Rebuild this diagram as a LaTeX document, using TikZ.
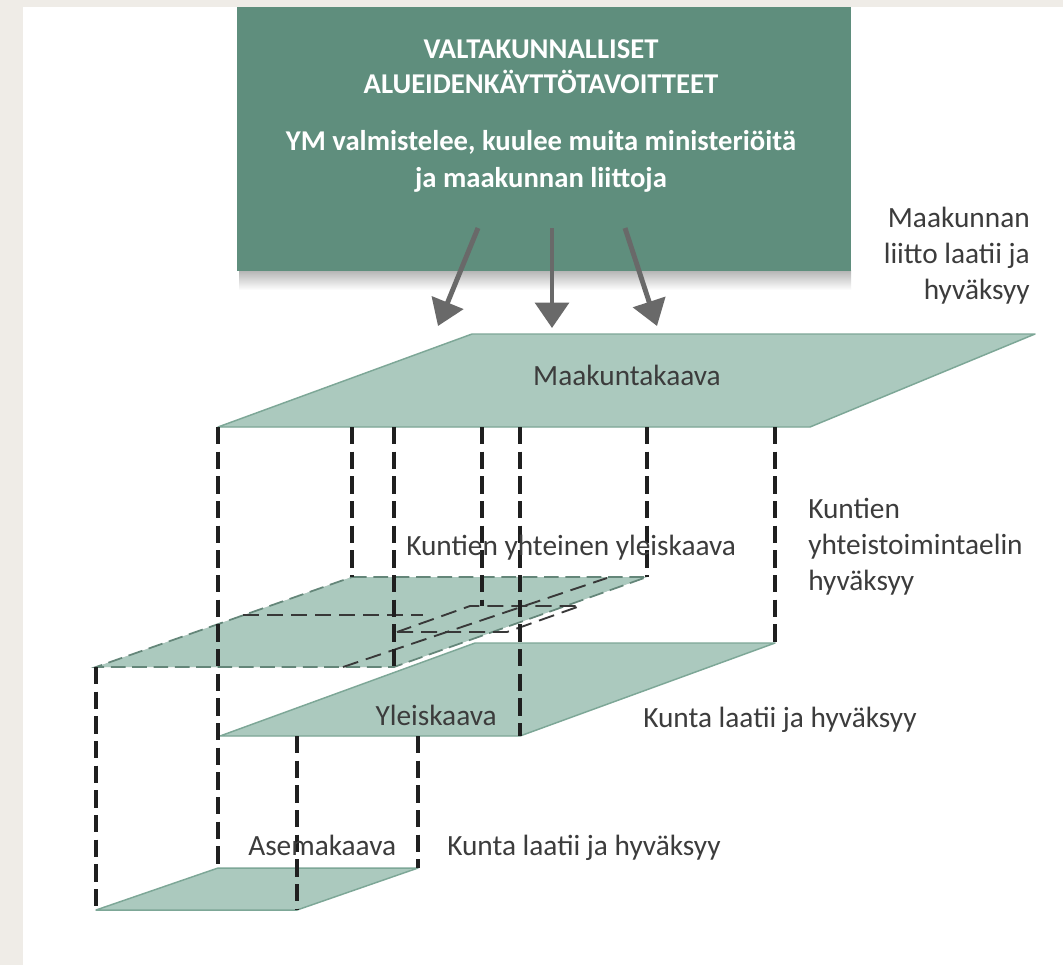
\documentclass[tikz,border=0pt]{standalone}
\usepackage{fontspec}
\setmainfont{Carlito}
\usetikzlibrary{arrows.meta}
\definecolor{bgstrip}{HTML}{EFECE7}
\definecolor{topgreen}{HTML}{5F8E7D}
\definecolor{planefill}{HTML}{ABC9BE}
\definecolor{planeedge}{HTML}{7DA797}
\definecolor{txt}{HTML}{3C3C3C}
\definecolor{arrowgray}{HTML}{696969}
\begin{document}
\begin{tikzpicture}[x=0.75pt,y=-0.75pt,
  plane/.style={fill=planefill, draw=planeedge, line width=1.1pt, line join=round},
  jointedge/.style={draw=planeedge!80!black, line width=1.3pt, dash pattern=on 11pt off 5pt},
  guide/.style={draw=black!88, line width=2.5pt, dash pattern=on 13pt off 5.5pt},
  innerline/.style={draw=black!78, line width=1.4pt, dash pattern=on 12pt off 6pt},
  lbl/.style={text=txt, font=\fontsize{22}{27}\selectfont, inner sep=0pt},
  ttl/.style={text=white, font=\bfseries\fontsize{21.5}{26}\selectfont, inner sep=0pt},
  arr/.style={draw=arrowgray, line width=3.7pt, -{Triangle[length=19pt,width=25pt]}},
]
\useasboundingbox (0,0) rectangle (1063,965);
\fill[white] (0,0) rectangle (1063,965);
\fill[bgstrip] (0,0) rectangle (23,965);
\fill[bgstrip] (0,0) rectangle (1063,7);

% top box with soft shadow below
\shade[top color=black!30, bottom color=white] (239,270) rectangle (851,290);
\node[fill=topgreen, minimum width=614*0.75pt, minimum height=264*0.75pt, anchor=north west, inner sep=0pt] (top) at (237,7) {};
\node[ttl, anchor=base] (t1) at (541,58) {VALTAKUNNALLISET};
\node[ttl, anchor=base] (t2) at (541,93) {ALUEIDENKÄYTTÖTAVOITTEET};
\node[ttl, anchor=base] (t3) at (541,150) {YM valmistelee, kuulee muita ministeriöitä};
\node[ttl, anchor=base] (t4) at (541,187) {ja maakunnan liittoja};

% corners
\coordinate (M1) at (472,334); \coordinate (M2) at (1035,334);
\coordinate (M3) at (810,427); \coordinate (M4) at (218,427);
\coordinate (K1) at (352,577); \coordinate (K2) at (647,577);
\coordinate (K3) at (394,667); \coordinate (K4) at (96,667);
\coordinate (Y1) at (475,643); \coordinate (Y2) at (775,643);
\coordinate (Y3) at (520,736); \coordinate (Y4) at (220,736);
\coordinate (A1) at (218,868); \coordinate (A2) at (418,868);
\coordinate (A3) at (297,910); \coordinate (A4) at (96,910);

% arrows
\coordinate (a1s) at (478,228); \coordinate (a1e) at (438,326);
\coordinate (a2s) at (552,228); \coordinate (a2e) at (552,328);
\coordinate (a3s) at (625,228); \coordinate (a3e) at (657,326);
\draw[arr] (a1s) -- (a1e);
\draw[arr] (a2s) -- (a2e);
\draw[arr] (a3s) -- (a3e);

% planes with soft shadows
\foreach \s/\o in {2/0.09,5/0.06,8/0.04,11/0.02}{
  \fill[black, opacity=\o, shift={(\s,\s*1.3)}] (M1) -- (M2) -- (M3) -- (M4) -- cycle;
}
\draw[plane] (M1) -- (M2) -- (M3) -- (M4) -- cycle;

\foreach \s/\o in {2/0.09,5/0.06,8/0.04,11/0.02}{
  \fill[black, opacity=\o, shift={(\s,\s*1.3)}] (Y1) -- (Y2) -- (Y3) -- (Y4) -- cycle;
}
\draw[plane] (Y1) -- (Y2) -- (Y3) -- (Y4) -- cycle;

\foreach \s/\o in {2/0.09,5/0.06,8/0.04,11/0.02}{
  \fill[black, opacity=\o, shift={(\s,\s*1.3)}] (K1) -- (K2) -- (K3) -- (K4) -- cycle;
}
\fill[planefill] (K1) -- (K2) -- (K3) -- (K4) -- cycle;
\draw[jointedge] (K1) -- (K2) -- (K3) -- (K4) -- cycle;

\foreach \s/\o in {2/0.09,5/0.06,8/0.04,11/0.02}{
  \fill[black, opacity=\o, shift={(\s,\s*1.3)}] (A1) -- (A2) -- (A3) -- (A4) -- cycle;
}
\draw[plane] (A1) -- (A2) -- (A3) -- (A4) -- cycle;

% inner dashed lines of the joint plan
\coordinate (h1) at (243,615); \coordinate (h2) at (423,615);
\coordinate (d1) at (343,667); \coordinate (d2) at (607,578);
\coordinate (p1) at (397,632); \coordinate (p2) at (507,632);
\coordinate (p3) at (580,606); \coordinate (p4) at (470,606);
\draw[innerline] (h1) -- (h2);
\draw[innerline] (d1) -- (d2);
\draw[innerline] (p1) -- (p2) -- (p3) -- (p4) -- cycle;

% vertical guides
\coordinate (m352) at (352,427); \coordinate (m394) at (394,427);
\coordinate (m482) at (482,427); \coordinate (m520) at (520,427);
\coordinate (m647) at (647,427); \coordinate (m775) at (775,427);
\coordinate (k482) at (482,606);
\coordinate (y297) at (297,736); \coordinate (y418) at (418,736);
\draw[guide] (M4) -- (A1);
\draw[guide] (K4) -- (A4);
\draw[guide] (m352) -- (K1);
\draw[guide] (m394) -- (K3);
\draw[guide] (m482) -- (k482);
\draw[guide] (m520) -- (Y3);
\draw[guide] (m647) -- (K2);
\draw[guide] (m775) -- (Y2);
\draw[guide] (y297) -- (A3);
\draw[guide] (y418) -- (A2);

% labels
\node[lbl, anchor=base] (lM) at (627,385) {Maakuntakaava};
\node[lbl, anchor=base west] (lK) at (406,555) {Kuntien yhteinen yleiskaava};
\node[lbl, anchor=base east] (lY) at (497,725) {Yleiskaava};
\node[lbl, anchor=base west] (lA) at (248,855) {Asemakaava};
\node[lbl, anchor=base east] (r1) at (1030,227) {Maakunnan};
\node[lbl, anchor=base east] (r2) at (1030,263) {liitto laatii ja};
\node[lbl, anchor=base east] (r3) at (1030,299) {hyväksyy};
\node[lbl, anchor=base west] (s1) at (808,518) {Kuntien};
\node[lbl, anchor=base west] (s2) at (808,554) {yhteistoimintaelin};
\node[lbl, anchor=base west] (s3) at (808,590) {hyväksyy};
\node[lbl, anchor=base west] (u1) at (643,727) {Kunta laatii ja hyväksyy};
\node[lbl, anchor=base west] (u2) at (447,855) {Kunta laatii ja hyväksyy};
\end{tikzpicture}
\end{document}
